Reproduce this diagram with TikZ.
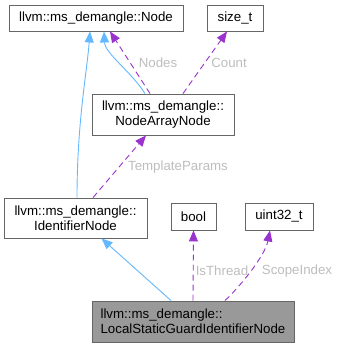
\documentclass[tikz,border=0pt]{standalone}
\usepackage{fontspec}
\setmainfont{Liberation Sans}
\usetikzlibrary{arrows.meta}

\definecolor{edgeblue}{HTML}{63B8FF}
\definecolor{edgepurple}{HTML}{9A32CD}
\definecolor{boxgray}{HTML}{666666}
\definecolor{labelgray}{HTML}{BDBDBD}
\definecolor{mainfill}{HTML}{999999}

\begin{document}
\begin{tikzpicture}[x=1pt, y=-1pt,
    cls/.style     = {draw=boxgray, fill=white, line width=0.9pt, inner sep=0pt,
                      align=center, font=\fontsize{13.3}{14.6}\selectfont},
    inherit/.style = {draw=edgeblue, line width=0.9pt, -{Triangle[length=11pt,width=9pt]}},
    member/.style  = {draw=edgepurple, line width=0.9pt, dash pattern=on 6pt off 4pt,
                      -{Triangle[length=11pt,width=9pt]}},
    elabel/.style  = {text=labelgray, inner sep=0pt, font=\fontsize{13.3}{14.6}\selectfont}]

    \useasboundingbox (0,0) rectangle (338,347);

    % Classes
    \node[cls, minimum width=174, minimum height=26] (node)  at (96, 18)    {llvm::ms\_demangle::Node};
    \node[cls, minimum width=56,  minimum height=26] (sizet) at (235, 18)   {size\_t};
    \node[cls, minimum width=142, minimum height=41] (arr)   at (163, 114.5) {llvm::ms\_demangle::\\NodeArrayNode};
    \node[cls, minimum width=143, minimum height=40] (ident) at (75.5, 218)  {llvm::ms\_demangle::\\IdentifierNode};
    \node[cls, minimum width=45,  minimum height=27] (bool)  at (193.5, 216.5) {bool};
    \node[cls, minimum width=68,  minimum height=27] (uint)  at (279, 216.5)   {uint32\_t};
    \node[cls, fill=mainfill, align=left, minimum width=202, minimum height=41]
        (local) at (193, 321.5) {llvm::ms\_demangle::\\LocalStaticGuardIdentifierNode};

    % Inheritance
    \draw[inherit] ([xshift=1.5]ident.north) .. controls +(0,-75) and +(-3,40) .. ([xshift=-6]node.south);
    \draw[inherit] ([xshift=-18]arr.north) .. controls +(-14,-22) and +(1,22) .. ([xshift=8]node.south);
    \draw[inherit] ([xshift=-22]local.north) -- ([xshift=26]ident.south);

    % Members
    \draw[member] ([xshift=-13]arr.north) -- ([xshift=14]node.south);
    \draw[member] ([xshift=20]arr.north) -- ([xshift=-8]sizet.south);
    \draw[member] ([xshift=17.5]ident.north) -- ([xshift=-17]arr.south);
    \draw[member] (local.north) -- (bool.south);
    \draw[member] ([xshift=32]local.north) .. controls +(16,-15) and +(-5,25) .. ([xshift=-9]uint.south);

    % Member names
    \node[elabel] (lnodes) at (158, 63)  {Nodes};
    \node[elabel] (lcount) at (229, 63)  {Count};
    \node[elabel] (ltmpl)  at (178, 167) {TemplateParams};
    \node[elabel] (lthr)   at (222, 271) {IsThread};
    \node[elabel] (lscope) at (297, 271) {ScopeIndex};
\end{tikzpicture}
\end{document}
